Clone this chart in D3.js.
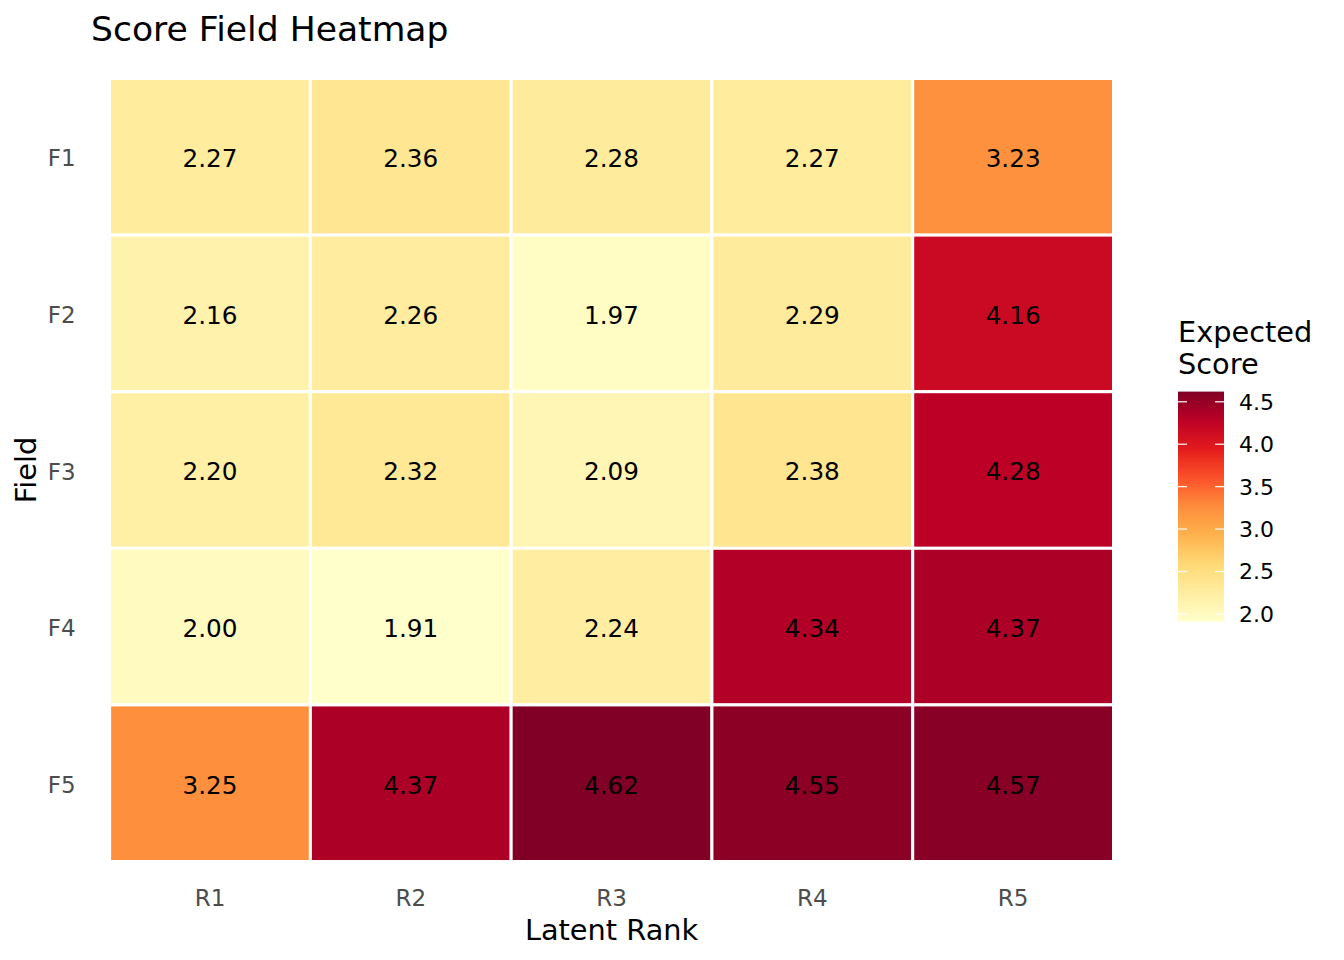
<!DOCTYPE html>
<html>
<head>
  <meta charset="utf-8">
  <title>Score Field Heatmap</title>
  <script src="https://d3js.org/d3.v7.min.js"></script>
  <style>
    body { margin: 0; background: #fff; }
    text { font-family: "DejaVu Sans", sans-serif; }
  </style>
</head>
<body>
<div id="chart"></div>
<script>
// data
var ranks = ["R1", "R2", "R3", "R4", "R5"];
var fields = ["F1", "F2", "F3", "F4", "F5"];
var scoreF1 = [2.27, 2.36, 2.28, 2.27, 3.23];
var scoreF2 = [2.16, 2.26, 1.97, 2.29, 4.16];
var scoreF3 = [2.20, 2.32, 2.09, 2.38, 4.28];
var scoreF4 = [2.00, 1.91, 2.24, 4.34, 4.37];
var scoreF5 = [3.25, 4.37, 4.62, 4.55, 4.57];
var legendTicks = [2.0, 2.5, 3.0, 3.5, 4.0, 4.5];
var palette = ["#FFFFCC", "#FFEDA0", "#FED976", "#FEB24C", "#FD8D3C",
               "#FC4E2A", "#E31A1C", "#BD0026", "#800026"];

var rows = [scoreF1, scoreF2, scoreF3, scoreF4, scoreF5];
var cells = [];
rows.forEach(function(r, i) {
  r.forEach(function(v, j) {
    cells.push({field: fields[i], rank: ranks[j], value: v});
  });
});

var W = 1344, H = 960;
var svg = d3.select("#chart").append("svg")
  .attr("width", W).attr("height", H);

var x = d3.scaleBand().domain(ranks).range([109.6, 1113.5]);
var y = d3.scaleBand().domain(fields).range([78.5, 861.5]);

var vmin = d3.min(cells, function(d) { return d.value; }),
    vmax = d3.max(cells, function(d) { return d.value; });
var color = d3.scaleLinear()
  .domain(palette.map(function(c, i) { return vmin + (vmax - vmin) * i / (palette.length - 1); }))
  .range(palette)
  .interpolate(d3.interpolateLab);

// tiles
svg.append("g").selectAll("rect").data(cells).enter().append("rect")
  .attr("x", function(d) { return x(d.rank); })
  .attr("y", function(d) { return y(d.field); })
  .attr("width", x.bandwidth())
  .attr("height", y.bandwidth())
  .attr("fill", function(d) { return color(d.value); })
  .attr("stroke", "#fff")
  .attr("stroke-width", 3);

// cell labels
svg.append("g").selectAll("text").data(cells).enter().append("text")
  .attr("x", function(d) { return x(d.rank) + x.bandwidth() / 2; })
  .attr("y", function(d) { return y(d.field) + y.bandwidth() / 2; })
  .attr("dy", "0.42em")
  .attr("text-anchor", "middle")
  .style("font-size", "24.7px")
  .attr("fill", "#000")
  .text(function(d) { return d.value.toFixed(2); });

// axes (no lines, just labels)
var xAxis = svg.append("g")
  .attr("transform", "translate(0,861.5)")
  .call(d3.axisBottom(x).tickSize(0).tickPadding(28));
var yAxis = svg.append("g")
  .attr("transform", "translate(109.6,0)")
  .call(d3.axisLeft(y).tickSize(0).tickPadding(34));
[xAxis, yAxis].forEach(function(a) {
  a.select(".domain").remove();
  a.selectAll("text")
    .style("font-size", "23px")
    .style("font-family", "DejaVu Sans, sans-serif")
    .attr("fill", "#4D4D4D");
});
xAxis.selectAll("text").attr("dy", "0.71em").attr("y", 28);
yAxis.selectAll("text").attr("dy", "0.42em");

// titles
svg.append("text")
  .attr("x", 91).attr("y", 41)
  .style("font-size", "34.6px")
  .text("Score Field Heatmap");

svg.append("text")
  .attr("x", (109.6 + 1113.5) / 2).attr("y", 940)
  .attr("text-anchor", "middle")
  .style("font-size", "28.8px")
  .text("Latent Rank");

svg.append("text")
  .attr("transform", "translate(36," + (78.5 + 861.5) / 2 + ") rotate(-90)")
  .attr("text-anchor", "middle")
  .style("font-size", "28.8px")
  .text("Field");

// legend
var lg = svg.append("g");
lg.append("text").attr("x", 1178).attr("y", 342)
  .style("font-size", "28.8px").text("Expected");
lg.append("text").attr("x", 1178).attr("y", 374)
  .style("font-size", "28.8px").text("Score");

var ly = d3.scaleLinear().domain([vmin, vmax]).range([621.6, 391.6]);
var defs = svg.append("defs");
var grad = defs.append("linearGradient")
  .attr("id", "lgrad").attr("x1", 0).attr("y1", 1).attr("x2", 0).attr("y2", 0);
d3.range(0, 1.0001, 0.05).forEach(function(t) {
  grad.append("stop")
    .attr("offset", t)
    .attr("stop-color", color(vmin + (vmax - vmin) * t));
});
lg.append("rect")
  .attr("x", 1178).attr("y", ly(vmax))
  .attr("width", 46).attr("height", ly(vmin) - ly(vmax))
  .attr("fill", "url(#lgrad)");

lg.selectAll(".tl").data(legendTicks).enter().append("line")
  .attr("x1", 1178).attr("x2", 1187)
  .attr("y1", function(d) { return ly(d); }).attr("y2", function(d) { return ly(d); })
  .attr("stroke", "#fff").attr("stroke-width", 1.2);
lg.selectAll(".tr").data(legendTicks).enter().append("line")
  .attr("x1", 1215).attr("x2", 1224)
  .attr("y1", function(d) { return ly(d); }).attr("y2", function(d) { return ly(d); })
  .attr("stroke", "#fff").attr("stroke-width", 1.2);
lg.selectAll(".lt").data(legendTicks).enter().append("text")
  .attr("x", 1239)
  .attr("y", function(d) { return ly(d); })
  .attr("dy", "0.36em")
  .style("font-size", "22px")
  .attr("fill", "#000")
  .text(function(d) { return d.toFixed(1); });
</script>
</body>
</html>
